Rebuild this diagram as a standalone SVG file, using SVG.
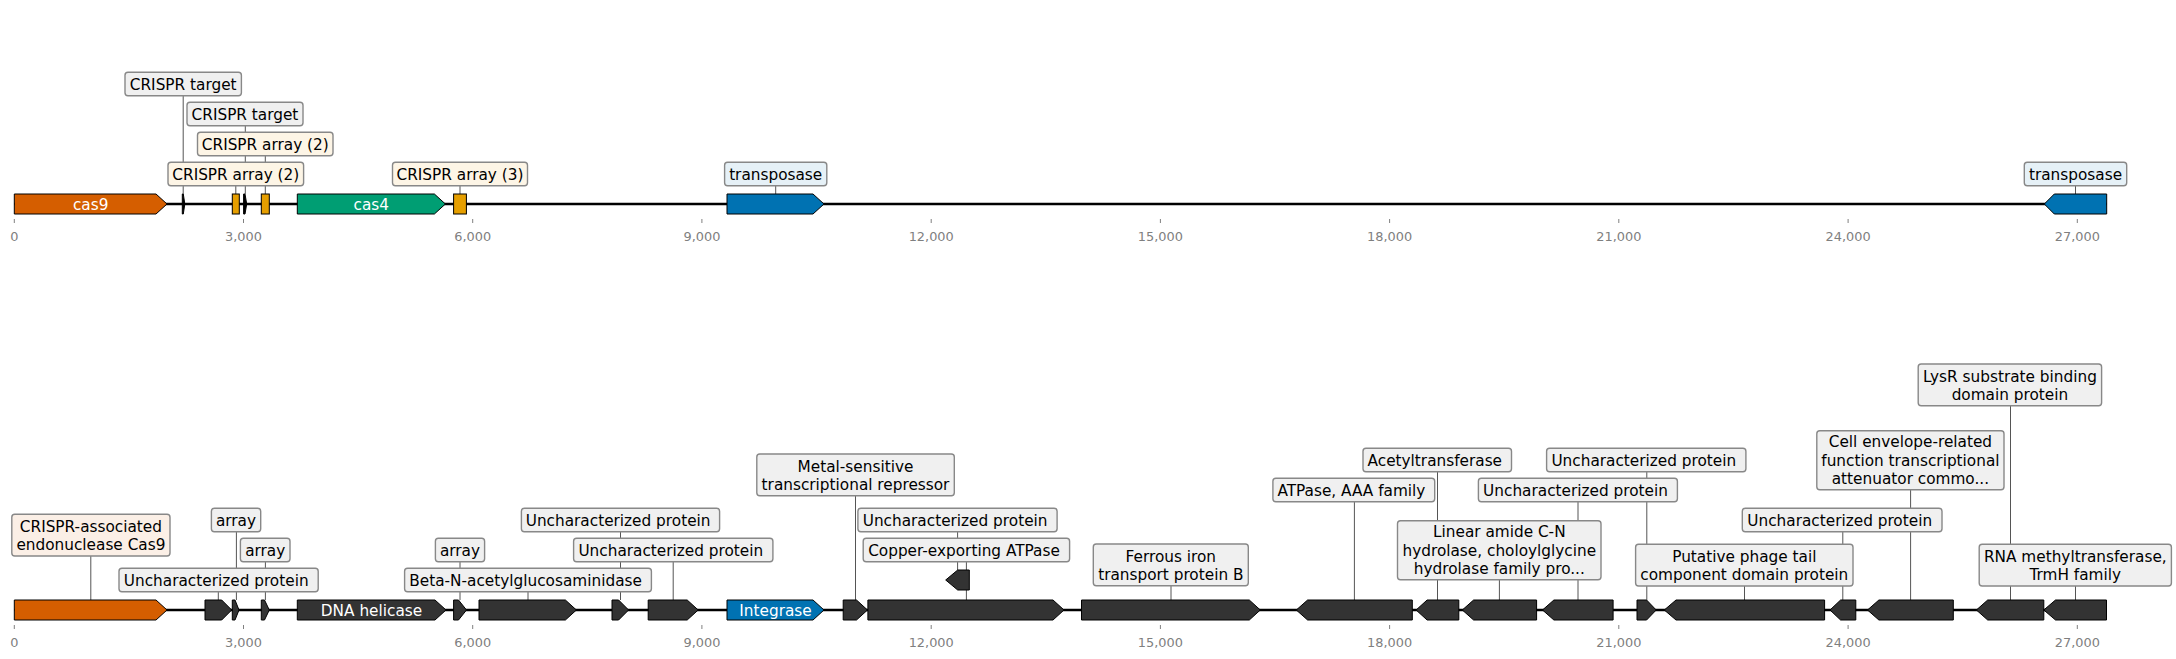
<svg xmlns="http://www.w3.org/2000/svg" width="2176" height="659" viewBox="0 0 2176 659">
<style>
text{font-family:"DejaVu Sans","Liberation Sans",sans-serif;}
.lbl{font-size:15.3px;fill:#000;text-anchor:middle;}
.in{font-size:15.3px;fill:#fff;text-anchor:middle;}
.tk{font-size:12.9px;fill:#7f7f7f;text-anchor:middle;}
.box{stroke:#888;stroke-width:1.4;}
.g{fill:#f0f0f0;}
.o{fill:#fdf5e6;}
.b{fill:#e6f1f7;}
.r{fill:#fbefe6;}
.f{stroke:#000;stroke-width:1;stroke-linejoin:miter;}
.dk{fill:#333333;}
.track{stroke:#000;stroke-width:2.6;}
.tick{stroke:#808080;stroke-width:1;}
.conn line{stroke:#555;stroke-width:1;}
</style>
<rect width="2176" height="659" fill="#fff"/>
<g id="axes">
<line class="track" x1="14.3" y1="204" x2="2106.7" y2="204"/>
<line class="track" x1="14.3" y1="610" x2="2106.5" y2="610"/>
<g class="ticks">
<line class="tick" x1="14.3" y1="219" x2="14.3" y2="223"/><line class="tick" x1="243.5" y1="219" x2="243.5" y2="223"/><line class="tick" x1="472.7" y1="219" x2="472.7" y2="223"/><line class="tick" x1="701.9" y1="219" x2="701.9" y2="223"/><line class="tick" x1="931.2" y1="219" x2="931.2" y2="223"/><line class="tick" x1="1160.4" y1="219" x2="1160.4" y2="223"/><line class="tick" x1="1389.6" y1="219" x2="1389.6" y2="223"/><line class="tick" x1="1618.8" y1="219" x2="1618.8" y2="223"/><line class="tick" x1="1848.1" y1="219" x2="1848.1" y2="223"/><line class="tick" x1="2077.3" y1="219" x2="2077.3" y2="223"/>
<line class="tick" x1="14.3" y1="625" x2="14.3" y2="629"/><line class="tick" x1="243.5" y1="625" x2="243.5" y2="629"/><line class="tick" x1="472.7" y1="625" x2="472.7" y2="629"/><line class="tick" x1="701.9" y1="625" x2="701.9" y2="629"/><line class="tick" x1="931.2" y1="625" x2="931.2" y2="629"/><line class="tick" x1="1160.4" y1="625" x2="1160.4" y2="629"/><line class="tick" x1="1389.6" y1="625" x2="1389.6" y2="629"/><line class="tick" x1="1618.8" y1="625" x2="1618.8" y2="629"/><line class="tick" x1="1848.1" y1="625" x2="1848.1" y2="629"/><line class="tick" x1="2077.3" y1="625" x2="2077.3" y2="629"/>
</g>
<g class="ticklabels">
<text class="tk" x="14.3" y="241">0</text><text class="tk" x="243.5" y="241">3,000</text><text class="tk" x="472.7" y="241">6,000</text><text class="tk" x="701.9" y="241">9,000</text><text class="tk" x="931.2" y="241">12,000</text><text class="tk" x="1160.4" y="241">15,000</text><text class="tk" x="1389.6" y="241">18,000</text><text class="tk" x="1618.8" y="241">21,000</text><text class="tk" x="1848.1" y="241">24,000</text><text class="tk" x="2077.3" y="241">27,000</text>
<text class="tk" x="14.3" y="647">0</text><text class="tk" x="243.5" y="647">3,000</text><text class="tk" x="472.7" y="647">6,000</text><text class="tk" x="701.9" y="647">9,000</text><text class="tk" x="931.2" y="647">12,000</text><text class="tk" x="1160.4" y="647">15,000</text><text class="tk" x="1389.6" y="647">18,000</text><text class="tk" x="1618.8" y="647">21,000</text><text class="tk" x="1848.1" y="647">24,000</text><text class="tk" x="2077.3" y="647">27,000</text>
</g>
</g>
<g id="connectors" class="conn">
<line x1="183.2" y1="95.7" x2="183.2" y2="194"/>
<line x1="245.3" y1="125.7" x2="245.3" y2="194"/>
<line x1="265.3" y1="155.7" x2="265.3" y2="194"/>
<line x1="235.8" y1="185.7" x2="235.8" y2="194"/>
<line x1="460" y1="185.7" x2="460" y2="194"/>
<line x1="775.7" y1="185.7" x2="775.7" y2="194"/>
<line x1="2075.5" y1="185.7" x2="2075.5" y2="194"/>
<line x1="90.8" y1="556" x2="90.8" y2="600"/>
<line x1="236.4" y1="531.7" x2="236.4" y2="600"/>
<line x1="265.4" y1="561.7" x2="265.4" y2="600"/>
<line x1="218.3" y1="591.7" x2="218.3" y2="600"/>
<line x1="460" y1="561.7" x2="460" y2="600"/>
<line x1="528" y1="591.7" x2="528" y2="600"/>
<line x1="620.5" y1="531.7" x2="620.5" y2="600"/>
<line x1="673.2" y1="561.7" x2="673.2" y2="600"/>
<line x1="855.5" y1="495.7" x2="855.5" y2="600"/>
<line x1="957.6" y1="531.7" x2="957.6" y2="570"/>
<line x1="966.4" y1="561.7" x2="966.4" y2="600"/>
<line x1="1171" y1="585.7" x2="1171" y2="600"/>
<line x1="1354.4" y1="501.7" x2="1354.4" y2="600"/>
<line x1="1437.5" y1="471.7" x2="1437.5" y2="600"/>
<line x1="1499.4" y1="579.7" x2="1499.4" y2="600"/>
<line x1="1578" y1="501.7" x2="1578" y2="600"/>
<line x1="1646.8" y1="471.7" x2="1646.8" y2="600"/>
<line x1="1744.5" y1="586" x2="1744.5" y2="600"/>
<line x1="1842.8" y1="531.7" x2="1842.8" y2="600"/>
<line x1="1910.6" y1="489.7" x2="1910.6" y2="600"/>
<line x1="2010.5" y1="405.7" x2="2010.5" y2="600"/>
<line x1="2075.5" y1="586" x2="2075.5" y2="600"/>
</g>
<g id="top-features">
<g id="t-cas9"><polygon class="f" fill="#D55E00" points="14.3,194 156,194 167,204 156,214 14.3,214"/><text class="in" x="90.7" y="209.7">cas9</text></g>
<polygon id="t-target1" class="f" fill="#000" points="182.3,194 183.3,194 184.8,204 183.3,214 182.3,214"/>
<rect id="t-array1" class="f" fill="#E69F00" x="232.3" y="194" width="7" height="20"/>
<polygon id="t-target2" class="f" fill="#000" points="243.6,194 245,194 246.7,204 245,214 243.6,214"/>
<rect id="t-array2" class="f" fill="#E69F00" x="261.3" y="194" width="8" height="20"/>
<g id="t-cas4"><polygon class="f" fill="#009E73" points="297.3,194 434.4,194 445.4,204 434.4,214 297.3,214"/><text class="in" x="371.3" y="209.7">cas4</text></g>
<rect id="t-array3" class="f" fill="#E69F00" x="453.6" y="194" width="12.8" height="20"/>
<polygon id="t-transposase1" class="f" fill="#0072B2" points="727,194 813,194 824,204 813,214 727,214"/>
<polygon id="t-transposase2" class="f" fill="#0072B2" points="2044.3,204 2054.3,194 2106.7,194 2106.7,214 2054.3,214"/>
</g>
<g id="bottom-features">
<polygon id="b1" class="f" fill="#D55E00" points="14.3,600 156,600 167,610 156,620 14.3,620"/>
<polygon id="b2" class="f dk" points="205,600 221.7,600 231.7,610 221.7,620 205,620"/>
<polygon id="b3" class="f dk" points="232.3,600 235,600 239,610 235,620 232.3,620"/>
<polygon id="b4" class="f dk" points="261.3,600 264.5,600 269.3,610 264.5,620 261.3,620"/>
<g id="b5"><polygon class="f dk" points="297.3,600 435,600 446,610 435,620 297.3,620"/><text class="in" x="371.5" y="615.7">DNA helicase</text></g>
<polygon id="b6" class="f dk" points="453.6,600 458.5,600 466.5,610 458.5,620 453.6,620"/>
<polygon id="b7" class="f dk" points="479,600 565.4,600 576.4,610 565.4,620 479,620"/>
<polygon id="b8" class="f dk" points="612,600 618.6,600 628.6,610 618.6,620 612,620"/>
<polygon id="b9" class="f dk" points="648.2,600 687.2,600 698.2,610 687.2,620 648.2,620"/>
<g id="b10"><polygon class="f" fill="#0072B2" points="727,600 813,600 824,610 813,620 727,620"/><text class="in" x="775.5" y="615.7">Integrase</text></g>
<polygon id="b11" class="f dk" points="843.2,600 856.5,600 867.5,610 856.5,620 843.2,620"/>
<polygon id="b12" class="f dk" points="867.9,600 1053,600 1064,610 1053,620 867.9,620"/>
<polygon id="b13" class="f dk" points="945.7,580 957.7,570 969.3,570 969.3,590 957.7,590"/>
<polygon id="b14" class="f dk" points="1081.5,600 1249.3,600 1260.3,610 1249.3,620 1081.5,620"/>
<polygon id="b15" class="f dk" points="1296.3,610 1307.6,600 1412.3,600 1412.3,620 1307.6,620"/>
<polygon id="b16" class="f dk" points="1416.1,610 1427.1,600 1458.8,600 1458.8,620 1427.1,620"/>
<polygon id="b17" class="f dk" points="1462.3,610 1473.6,600 1536.6,600 1536.6,620 1473.6,620"/>
<polygon id="b18" class="f dk" points="1542.5,610 1553.9,600 1613.1,600 1613.1,620 1553.9,620"/>
<polygon id="b19" class="f dk" points="1637,600 1646.6,600 1656.2,610 1646.6,620 1637,620"/>
<polygon id="b20" class="f dk" points="1664.3,610 1676,600 1824.6,600 1824.6,620 1676,620"/>
<polygon id="b21" class="f dk" points="1830,610 1840.6,600 1855.8,600 1855.8,620 1840.6,620"/>
<polygon id="b22" class="f dk" points="1867.5,610 1878.9,600 1953.3,600 1953.3,620 1878.9,620"/>
<polygon id="b23" class="f dk" points="1976.4,610 1987.7,600 2043.8,600 2043.8,620 1987.7,620"/>
<polygon id="b24" class="f dk" points="2043.8,610 2055.5,600 2106.5,600 2106.5,620 2055.5,620"/>
</g>
<g id="top-labels">
<g id="tl1"><rect class="box g" x="125" y="72.3" width="116.4" height="23.4" rx="3"/><text class="lbl" x="183.2" y="90">CRISPR target</text></g>
<g id="tl2"><rect class="box g" x="187" y="102.3" width="116" height="23.4" rx="3"/><text class="lbl" x="245" y="120">CRISPR target</text></g>
<g id="tl3"><rect class="box o" x="197.5" y="132.3" width="135.5" height="23.4" rx="3"/><text class="lbl" x="265.3" y="150">CRISPR array (2)</text></g>
<g id="tl4"><rect class="box o" x="168" y="162.3" width="135.6" height="23.4" rx="3"/><text class="lbl" x="235.8" y="180">CRISPR array (2)</text></g>
<g id="tl5"><rect class="box o" x="392.5" y="162.3" width="135" height="23.4" rx="3"/><text class="lbl" x="460" y="180">CRISPR array (3)</text></g>
<g id="tl6"><rect class="box b" x="724.6" y="162.3" width="102.2" height="23.4" rx="3"/><text class="lbl" x="775.7" y="180">transposase</text></g>
<g id="tl7"><rect class="box b" x="2024.3" y="162.3" width="102.4" height="23.4" rx="3"/><text class="lbl" x="2075.5" y="180">transposase</text></g>
</g>
<g id="bottom-labels">
<g id="bl1"><rect class="box r" x="11.8" y="514.3" width="158.2" height="41.7" rx="3"/><text class="lbl" x="90.9" y="532">CRISPR-associated</text><text class="lbl" x="90.9" y="550.3">endonuclease Cas9</text></g>
<g id="bl2"><rect class="box g" x="211.4" y="508.3" width="49.3" height="23.4" rx="3"/><text class="lbl" x="236" y="526">array</text></g>
<g id="bl3"><rect class="box g" x="240.4" y="538.3" width="49.6" height="23.4" rx="3"/><text class="lbl" x="265.2" y="556">array</text></g>
<g id="bl4"><rect class="box g" x="119" y="568.3" width="199.2" height="23.4" rx="3"/><text class="lbl" x="216.2" y="586">Uncharacterized protein</text></g>
<g id="bl5"><rect class="box g" x="435.4" y="538.3" width="49.2" height="23.4" rx="3"/><text class="lbl" x="460" y="556">array</text></g>
<g id="bl6"><rect class="box g" x="404.6" y="568.3" width="246.8" height="23.4" rx="3"/><text class="lbl" x="525.6" y="586">Beta-N-acetylglucosaminidase</text></g>
<g id="bl7"><rect class="box g" x="521.4" y="508.3" width="198.2" height="23.4" rx="3"/><text class="lbl" x="618.1" y="526">Uncharacterized protein</text></g>
<g id="bl8"><rect class="box g" x="573.6" y="538.3" width="199.3" height="23.4" rx="3"/><text class="lbl" x="670.8" y="556">Uncharacterized protein</text></g>
<g id="bl9"><rect class="box g" x="756.8" y="454" width="197.5" height="41.7" rx="3"/><text class="lbl" x="855.5" y="471.7">Metal-sensitive</text><text class="lbl" x="855.5" y="490">transcriptional repressor</text></g>
<g id="bl10"><rect class="box g" x="857.9" y="508.3" width="199.2" height="23.4" rx="3"/><text class="lbl" x="955.1" y="526">Uncharacterized protein</text></g>
<g id="bl11"><rect class="box g" x="863.2" y="538.3" width="206.4" height="23.4" rx="3"/><text class="lbl" x="964" y="556">Copper-exporting ATPase</text></g>
<g id="bl12"><rect class="box g" x="1093.3" y="544" width="155" height="41.7" rx="3"/><text class="lbl" x="1170.8" y="561.7">Ferrous iron</text><text class="lbl" x="1170.8" y="580">transport protein B</text></g>
<g id="bl13"><rect class="box g" x="1272.9" y="478.3" width="161.8" height="23.4" rx="3"/><text class="lbl" x="1351.4" y="496">ATPase, AAA family</text></g>
<g id="bl14"><rect class="box g" x="1363" y="448.3" width="148.5" height="23.4" rx="3"/><text class="lbl" x="1434.8" y="466">Acetyltransferase</text></g>
<g id="bl15"><rect class="box g" x="1397.5" y="520.7" width="203.5" height="59" rx="3"/><text class="lbl" x="1499.3" y="537.3">Linear amide C-N</text><text class="lbl" x="1499.3" y="555.7">hydrolase, choloylglycine</text><text class="lbl" x="1499.3" y="574">hydrolase family pro...</text></g>
<g id="bl16"><rect class="box g" x="1478.4" y="478.3" width="199" height="23.4" rx="3"/><text class="lbl" x="1575.5" y="496">Uncharacterized protein</text></g>
<g id="bl17"><rect class="box g" x="1546.6" y="448.3" width="199.3" height="23.4" rx="3"/><text class="lbl" x="1643.8" y="466">Uncharacterized protein</text></g>
<g id="bl18"><rect class="box g" x="1635.6" y="544.3" width="217.4" height="41.7" rx="3"/><text class="lbl" x="1744.3" y="562">Putative phage tail</text><text class="lbl" x="1744.3" y="580.3">component domain protein</text></g>
<g id="bl19"><rect class="box g" x="1742.3" y="508.3" width="199.7" height="23.4" rx="3"/><text class="lbl" x="1839.7" y="526">Uncharacterized protein</text></g>
<g id="bl20"><rect class="box g" x="1816.8" y="430.7" width="187.2" height="59" rx="3"/><text class="lbl" x="1910.4" y="447.3">Cell envelope-related</text><text class="lbl" x="1910.4" y="465.7">function transcriptional</text><text class="lbl" x="1910.4" y="484">attenuator commo...</text></g>
<g id="bl21"><rect class="box g" x="1918.2" y="364" width="183.4" height="41.7" rx="3"/><text class="lbl" x="2009.9" y="381.7">LysR substrate binding</text><text class="lbl" x="2009.9" y="400">domain protein</text></g>
<g id="bl22"><rect class="box g" x="1979.2" y="544.3" width="192.2" height="41.7" rx="3"/><text class="lbl" x="2075.3" y="562">RNA methyltransferase,</text><text class="lbl" x="2075.3" y="580.3">TrmH family</text></g>
</g>
</svg>
